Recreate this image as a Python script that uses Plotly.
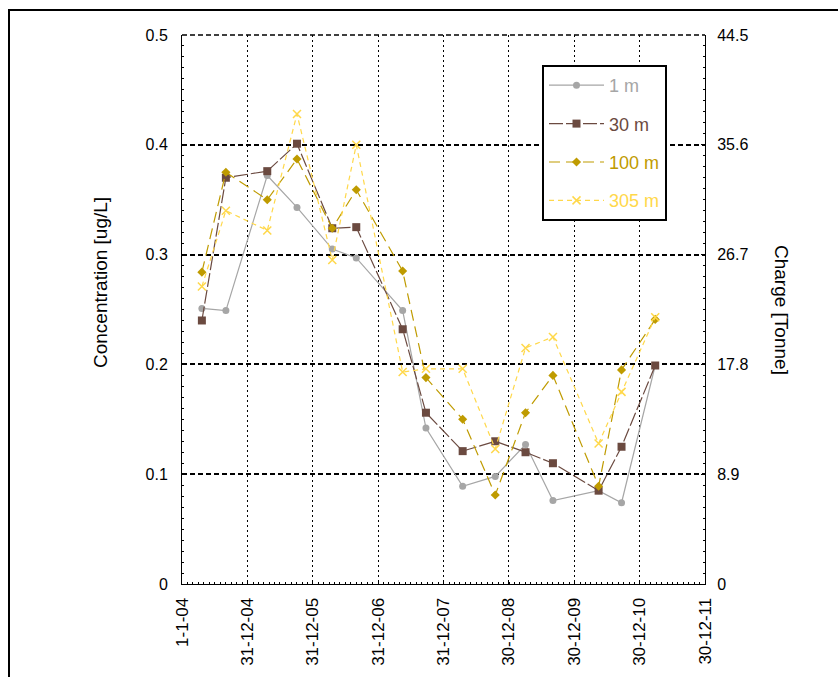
import plotly.graph_objects as go

# ---- data ----
dates = ["2004-04-21", "2004-09-02", "2005-04-21", "2005-10-04", "2006-04-19",
         "2006-08-31", "2007-05-17", "2007-09-24", "2008-04-16", "2008-10-15",
         "2009-04-02", "2009-09-02", "2010-05-15", "2010-09-20", "2011-03-27"]
conc_1m = [0.251, 0.249, 0.372, 0.343, 0.305, 0.297, 0.249, 0.142, 0.089, 0.098,
           0.127, 0.076, 0.085, 0.074, 0.199]
conc_30m = [0.240, 0.370, 0.376, 0.401, 0.324, 0.325, 0.232, 0.156, 0.121, 0.130,
            0.120, 0.110, 0.085, 0.125, 0.199]
conc_100m = [0.284, 0.375, 0.350, 0.387, 0.324, 0.359, 0.285, 0.188, 0.150, 0.081,
             0.156, 0.190, 0.089, 0.195, 0.241]
conc_305m = [0.271, 0.340, 0.322, 0.428, 0.295, 0.400, 0.193, 0.196, 0.196, 0.123,
             0.215, 0.225, 0.128, 0.175, 0.243]

x_tick_dates = ["2004-01-01", "2004-12-31", "2005-12-31", "2006-12-31", "2007-12-31",
                "2008-12-30", "2009-12-30", "2010-12-30", "2011-12-30"]
x_tick_labels = ["1-1-04", "31-12-04", "31-12-05", "31-12-06", "31-12-07",
                 "30-12-08", "30-12-09", "30-12-10", "30-12-11"]
y_ticks = [0, 0.1, 0.2, 0.3, 0.4, 0.5]
y_tick_labels = ["0", "0.1", "0.2", "0.3", "0.4", "0.5"]
y2_ticks = [0, 8.9, 17.8, 26.7, 35.6, 44.5]
y2_tick_labels = ["0", "8.9", "17.8", "26.7", "35.6", "44.5"]

# ---- styles ----
C1 = "#A6A6A6"
C30 = "#6B4A40"
C100 = "#BF9B00"
C305 = "#FFD84A"
FONT = "Arial, Liberation Sans, sans-serif"

fig = go.Figure()

series = [
    ("1 m", conc_1m, C1, "solid", "circle", 7, 1.2),
    ("30 m", conc_30m, C30, "14px,3px", "square", 8, 1.2),
    ("100 m", conc_100m, C100, "11px,6px", "diamond", 7, 1.2),
    ("305 m", conc_305m, C305, "5px,4px", "x-thin-open", 8, 1.2),
]
for name, vals, col, dash, sym, size, lw in series:
    marker = dict(symbol=sym, size=size, color=col)
    if sym.startswith("x-thin"):
        marker["line"] = dict(color=col, width=1.5)
    fig.add_trace(go.Scatter(
        x=dates, y=vals, mode="lines+markers",
        name=f"<span style='color:{col}'>{name}</span>",
        line=dict(color=col, width=lw, dash=dash),
        marker=marker, legendgroup=name,
    ))

# invisible trace to anchor right axis
fig.add_trace(go.Scatter(x=[], y=[], yaxis="y2", showlegend=False, hoverinfo="skip"))

W, H = 838, 677
L, R, T, B = 182, 133, 35, 93
pw, ph = W - L - R, H - T - B

def px(x):
    return (x - L) / pw

def py(y):
    return (H - B - y) / ph

fig.update_layout(
    width=W, height=H,
    margin=dict(l=L, r=R, t=T, b=B),
    paper_bgcolor="white", plot_bgcolor="white",
    font=dict(family=FONT, size=16, color="black"),
    showlegend=True,
    legend=dict(
        x=px(542), y=py(65), xanchor="left", yanchor="top",
        bgcolor="white", bordercolor="black", borderwidth=2,
        font=dict(size=18, family=FONT),
        itemwidth=55, traceorder="grouped", tracegroupgap=12,
    ),
    xaxis=dict(
        type="date", range=["2004-01-01", "2011-12-30"],
        tickmode="array", tickvals=x_tick_dates, ticktext=x_tick_labels,
        tickangle=-90, tickfont=dict(size=17),
        showgrid=True, gridcolor="black", gridwidth=1.3, griddash="2px,3px",
        showline=True, linecolor="black", linewidth=1,
        ticks="inside", ticklen=4, tickcolor="black",
        minor=dict(dtick="M1", ticks="inside", ticklen=2, tickcolor="black", showgrid=False),
        zeroline=False, ticklabelstandoff=6,
    ),
    yaxis=dict(
        range=[0, 0.5], tickmode="array", tickvals=y_ticks, ticktext=y_tick_labels,
        tickfont=dict(size=16),
        showgrid=True, gridcolor="black", gridwidth=1.5, griddash="5px,3px",
        showline=True, linecolor="black", linewidth=1,
        ticks="inside", ticklen=4, tickcolor="black",
        minor=dict(dtick=0.01, ticks="inside", ticklen=2, tickcolor="black", showgrid=False),
        zeroline=False, ticklabelstandoff=10,
    ),
    yaxis2=dict(
        range=[0, 44.5], overlaying="y", side="right",
        tickmode="array", tickvals=y2_ticks, ticktext=y2_tick_labels,
        tickfont=dict(size=16),
        showgrid=False, showline=True, linecolor="black", linewidth=1,
        ticks="inside", ticklen=4, tickcolor="black",
        minor=dict(dtick=0.89, ticks="inside", ticklen=2, tickcolor="black", showgrid=False),
        zeroline=False, ticklabelstandoff=8,
    ),
    annotations=[
        dict(text="Concentration [ug/L]", xref="paper", yref="paper",
             x=px(100), y=py(283), textangle=-90, showarrow=False,
             font=dict(size=19), xanchor="center", yanchor="middle"),
        dict(text="Charge [Tonne]", xref="paper", yref="paper",
             x=px(782), y=py(310), textangle=90, showarrow=False,
             font=dict(size=19), xanchor="center", yanchor="middle"),
    ],
    shapes=[
        dict(type="rect", xref="paper", yref="paper",
             x0=px(9), x1=px(850), y0=py(700), y1=py(10),
             line=dict(color="black", width=2), layer="below"),
        dict(type="line", xref="paper", yref="paper",
             x0=0, x1=1, y0=1, y1=1,
             line=dict(color="black", width=1.5, dash="5px,3px"), layer="below"),
    ],
)

fig.write_html("out.html")
